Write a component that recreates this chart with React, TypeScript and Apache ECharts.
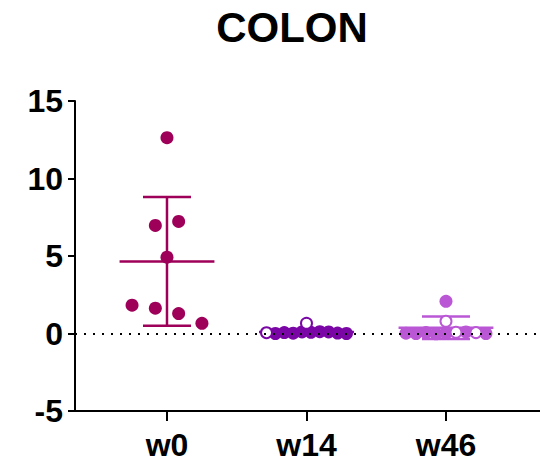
import React, { useEffect, useRef } from "react";
import * as echarts from "echarts";

// ---- data ----
const categories = ["w0", "w14", "w46"];
const w0Values = [12.63, 6.97, 7.23, 4.92, 1.83, 1.63, 1.29, 0.66];
const w0OpenIdx: number[] = [];
const w14Values = [0.66, 0.05, 0.0, 0.06, 0.02, 0.1, 0.08, 0.12, 0.1, 0.03, 0.0];
const w14OpenIdx = [0, 1];
const w46Values = [2.08, 0.79, 0.02, 0.0, 0.06, -0.02, 0.02, 0.08, 0.1, 0.06, 0.0];
const w46OpenIdx = [1, 7, 9];
const groupMeans = [4.65, 0.1, 0.37];
const groupSDs = [4.15, 0.15, 0.72];
const yMin = -5;
const yMax = 15;
const yInterval = 5;
const colors = ["#9E0059", "#7A06A6", "#BA57D5"];

const groups = [
  { values: w0Values, open: w0OpenIdx },
  { values: w14Values, open: w14OpenIdx },
  { values: w46Values, open: w46OpenIdx },
];

// column-scatter layout: points binned by value into rows, spread horizontally
const BIN_W = 1.25;
const BIN_START = 0.6;
const SPACING = 0.167; // in category units
const MAX_ROW = 0.573;
function swarmX(values: number[], center: number): number[] {
  const rows: Record<number, number[]> = {};
  values.forEach((v, i) => {
    const k = Math.floor((v - BIN_START) / BIN_W);
    (rows[k] = rows[k] || []).push(i);
  });
  const xs = new Array(values.length).fill(center);
  Object.values(rows).forEach((idx) => {
    const n = idx.length;
    const sp = n > 1 ? Math.min(SPACING, MAX_ROW / (n - 1)) : 0;
    idx.forEach((i, j) => {
      xs[i] = center + (j - (n - 1) / 2) * sp;
    });
  });
  return xs;
}

export default function App() {
  const ref = useRef<HTMLDivElement>(null);
  useEffect(() => {
    if (!ref.current) return;
    const chart = echarts.init(ref.current, null, { renderer: "svg" });
    const font = "'Liberation Sans', Arial, sans-serif";

    const filled: any[] = [];
    const open: any[] = [];
    groups.forEach((g, gi) => {
      const xs = swarmX(g.values, gi + 1);
      g.values.forEach((v, i) => {
        const item = { value: [xs[i], v] };
        if (g.open.includes(i)) {
          open.push({
            ...item,
            itemStyle: { color: "#ffffff", borderColor: colors[gi], borderWidth: 2, opacity: 1 },
          });
        } else {
          filled.push({ ...item, itemStyle: { color: colors[gi], opacity: 1 } });
        }
      });
    });

    const errData = categories.map((c, i) => [i + 1, groupMeans[i], groupSDs[i]]);

    chart.setOption({
      animation: false,
      title: {
        text: "COLON",
        left: 287,
        top: 1,
        textAlign: "center",
        textStyle: { fontFamily: font, fontWeight: "bold", fontSize: 42, color: "#000" },
      },
      grid: { left: 75, right: 0, top: 101, bottom: 52, containLabel: false },
      xAxis: {
        type: "value",
        min: 0.3405,
        max: 3.674,
        splitLine: { show: false },
        axisLine: { show: true, onZero: false, lineStyle: { color: "#000", width: 2 } },
        axisTick: {
          show: true,
          customValues: [1, 2, 3],
          length: 10,
          lineStyle: { color: "#000", width: 2 },
        },
        axisLabel: {
          customValues: [1, 2, 3],
          formatter: (v: number) => categories[Math.round(v) - 1] || "",
          fontFamily: font,
          fontWeight: "bold",
          fontSize: 32,
          color: "#000",
          margin: 18,
        },
      },
      yAxis: {
        type: "value",
        min: yMin,
        max: yMax,
        interval: yInterval,
        splitLine: { show: false },
        axisLine: { show: true, onZero: false, lineStyle: { color: "#000", width: 2 } },
        axisTick: { show: true, length: 7, lineStyle: { color: "#000", width: 2 } },
        axisLabel: {
          fontFamily: font,
          fontWeight: "bold",
          fontSize: 32,
          color: "#000",
          margin: 12,
        },
      },
      series: [
        {
          type: "custom",
          z: 2,
          data: errData,
          renderItem: (params: any, api: any) => {
            const x = api.value(0);
            const m = api.value(1);
            const s = api.value(2);
            const col = colors[params.dataIndex];
            const style = { stroke: col, lineWidth: 2.5 };
            const p = (a: number, b: number) => api.coord([a, b]);
            const l = (a: number[], b: number[]) => ({
              type: "line",
              shape: { x1: a[0], y1: a[1], x2: b[0], y2: b[1] },
              style,
            });
            return {
              type: "group",
              children: [
                l(p(x - 0.34, m), p(x + 0.34, m)),
                l(p(x, m - s), p(x, m + s)),
                l(p(x - 0.172, m + s), p(x + 0.172, m + s)),
                l(p(x - 0.172, m - s), p(x + 0.172, m - s)),
              ],
            };
          },
          markLine: {
            silent: true,
            symbol: "none",
            label: { show: false },
            lineStyle: { color: "#000", type: [2, 7], width: 2 },
            data: [{ yAxis: 0 }],
          },
        },
        {
          type: "scatter",
          z: 3,
          symbol: "circle",
          symbolSize: 13,
          itemStyle: { opacity: 1 },
          data: filled,
        },
        {
          type: "scatter",
          z: 4,
          symbol: "circle",
          symbolSize: 11,
          itemStyle: { opacity: 1 },
          data: open,
        },
      ],
    });
    return () => chart.dispose();
  }, []);
  return (
    <div
      ref={ref}
      style={{ position: "fixed", left: 0, top: 0, width: 540, height: 463, background: "#fff" }}
    />
  );
}
